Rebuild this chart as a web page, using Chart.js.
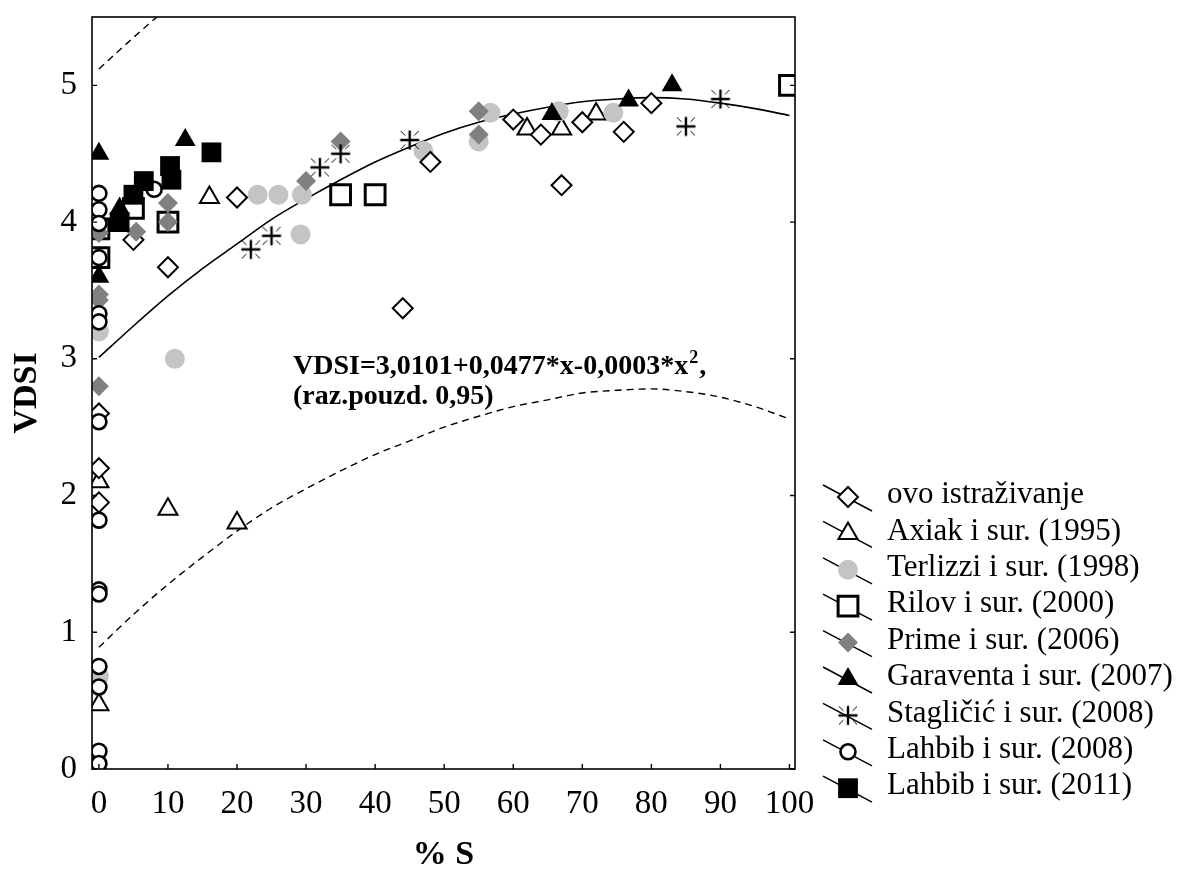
<!DOCTYPE html>
<html><head><meta charset="utf-8">
<script src="https://cdn.jsdelivr.net/npm/chart.js@4.4.1/dist/chart.umd.min.js"></script>
<style>html,body{margin:0;padding:0;background:#fff;}#wrap{width:1181px;height:872px;position:relative;}</style>
</head><body><div id="wrap"><canvas id="c" width="1181" height="872"></canvas></div>
<script>
// ---------- data ----------
const xTickValues = [0,10,20,30,40,50,60,70,80,90,100];
const yTickValues = [0,1,2,3,4,5];
const xTitle = '% S';
const yTitle = 'VDSI';
const eqLine1 = 'VDSI=3,0101+0,0477*x-0,0003*x';
const eqSup = '2';
const eqTail = ',';
const eqLine2 = '(raz.pouzd. 0,95)';

const seriesNames = ['ovo istraživanje','Axiak i sur. (1995)','Terlizzi i sur. (1998)','Rilov i sur. (2000)','Prime i sur. (2006)','Garaventa i sur. (2007)','Stagličić i sur. (2008)','Lahbib i sur. (2008)','Lahbib i sur. (2011)'];

const ovoX = [0,0,0,5,10,20,44,48,60,64,67,70,76,80];
const ovoY = [2.6,2.2,1.95,3.87,3.67,4.18,3.37,4.44,4.75,4.64,4.27,4.73,4.66,4.87];
const axiakX = [0,0,10,16,20,62,67,72];
const axiakY = [2.1,0.47,1.9,4.18,1.8,4.68,4.68,4.79];
const terlizziX = [0,0,11,23,26,29.4,29.2,47,55,56.7,66.6,74.5];
const terlizziY = [3.2,0.68,3.0,4.2,4.2,4.2,3.91,4.52,4.59,4.8,4.81,4.8];
const rilovX = [0,0,5,10,35,40,100];
const rilovY = [3.95,3.74,4.1,4.0,4.2,4.2,5.0];
const primeX = [0,0,0,0,5.4,10,10,30,35,55,55];
const primeY = [3.92,3.47,3.43,2.8,3.93,4.14,4.0,4.3,4.59,4.81,4.64];
const garaventaX = [0,0,3,12.5,65.6,76.7,83];
const garaventaY = [4.5,3.6,4.1,4.6,4.79,4.89,5.0];
const staglicicX = [22,25,32,35,45,85,90];
const staglicicY = [3.8,3.9,4.4,4.5,4.6,4.7,4.9];
const lahbib08X = [0,0,0,0,0,0,0,0,0,0,0,0,0,0,8];
const lahbib08Y = [4.21,4.09,3.99,3.74,3.33,3.27,2.54,1.82,1.31,1.28,0.75,0.6,0.13,0.04,4.24];
const lahbib11X = [3,5,6.5,10.3,10.5,16.3];
const lahbib11Y = [4.0,4.2,4.3,4.41,4.31,4.51];

// fitted curve and 0.95 band
const curveX = [0,5,10,15,20,25,30,35,40,45,50,55,60,65,70,75,80,85,90,95,100];
const fitY   = [3.01,3.24,3.46,3.66,3.84,4.02,4.17,4.31,4.44,4.55,4.65,4.73,4.79,4.84,4.88,4.90,4.91,4.90,4.87,4.83,4.78];
const lowerY = [0.89,1.13,1.35,1.55,1.74,1.91,2.05,2.18,2.30,2.40,2.50,2.58,2.65,2.70,2.75,2.77,2.78,2.76,2.72,2.65,2.56];
const upperX = [0,5,10];
const upperY = [5.12,5.35,5.57];

// ---------- helpers ----------
const SERIF = "'Liberation Serif','Times New Roman',serif";
const pts = (xs, ys) => xs.map((x, i) => ({x, y: ys[i]}));

function makeStar(){
  const c = document.createElement('canvas'); c.width = 24; c.height = 24;
  const g = c.getContext('2d');
  g.strokeStyle = '#000'; g.lineWidth = 2.4; g.beginPath();
  g.moveTo(12,2.5); g.lineTo(12,21.5); g.moveTo(2.5,12); g.lineTo(21.5,12); g.stroke();
  g.lineWidth = 1; g.beginPath();
  [[1,1],[1,-1],[-1,1],[-1,-1]].forEach(([a,b]) => { g.moveTo(12+a*4.5,12+b*4.5); g.lineTo(12+a*9,12+b*9); });
  g.stroke();
  return c;
}
const starImg = makeStar();

const styles = [
  {pointStyle:'rectRot', radius:10, bg:'#ffffff', border:'#000', bw:2},
  {pointStyle:'triangle', radius:11, bg:'#ffffff', border:'#000', bw:2},
  {pointStyle:'circle', radius:10, bg:'#c4c4c4', border:'#c4c4c4', bw:0},
  {pointStyle:'rect', radius:14, bg:'#ffffff', border:'#000', bw:3},
  {pointStyle:'rectRot', radius:10, bg:'#808080', border:'#808080', bw:0},
  {pointStyle:'triangle', radius:12, bg:'#000', border:'#000', bw:0},
  {pointStyle:starImg, radius:10, bg:'#000', border:'#000', bw:0},
  {pointStyle:'circle', radius:7.5, bg:'#ffffff', border:'#000', bw:2.6},
  {pointStyle:'rect', radius:14, bg:'#000', border:'#000', bw:0}
];
const seriesData = [pts(ovoX,ovoY), pts(axiakX,axiakY), pts(terlizziX,terlizziY), pts(rilovX,rilovY), pts(primeX,primeY), pts(garaventaX,garaventaY), pts(staglicicX,staglicicY), pts(lahbib08X,lahbib08Y), pts(lahbib11X,lahbib11Y)];
// lower order value = drawn on top
const drawOrder = [7,9,8,6,5,4,3,2,1];

const datasets = seriesNames.map((name, i) => ({
  label: name, data: seriesData[i], showLine: false, order: drawOrder[i],
  pointStyle: styles[i].pointStyle, pointRadius: styles[i].radius, pointHoverRadius: styles[i].radius,
  pointBackgroundColor: styles[i].bg, pointBorderColor: styles[i].border, pointBorderWidth: styles[i].bw
}));
const lineBase = {showLine:true, pointRadius:0, pointHoverRadius:0, borderColor:'#000', cubicInterpolationMode:'monotone', fill:false};
datasets.push(Object.assign({label:'fit', data: pts(curveX, fitY), borderWidth:1.6, order:10}, lineBase));
datasets.push(Object.assign({label:'lower', data: pts(curveX, lowerY), borderWidth:1.4, borderDash:[7,5], order:11}, lineBase));
datasets.push(Object.assign({label:'upper', data: pts(upperX, upperY), borderWidth:1.4, borderDash:[7,5], order:12}, lineBase));

// ---------- plugins ----------
const framePlugin = {
  id:'frame',
  afterDraw(chart){
    const {ctx, chartArea:a, scales:{x, y}} = chart;
    ctx.save();
    ctx.strokeStyle = '#000'; ctx.lineWidth = 1.6;
    ctx.strokeRect(a.left, a.top, a.right - a.left, a.bottom - a.top);
    ctx.lineWidth = 1.4; ctx.beginPath();
    xTickValues.forEach(v => { const p = x.getPixelForValue(v); ctx.moveTo(p, a.bottom); ctx.lineTo(p, a.bottom - 5); });
    yTickValues.forEach(v => { const p = y.getPixelForValue(v); ctx.moveTo(a.left, p); ctx.lineTo(a.left + 5, p); ctx.moveTo(a.right, p); ctx.lineTo(a.right - 5, p); });
    ctx.stroke();
    ctx.restore();
  }
};
const eqPlugin = {
  id:'eq',
  beforeDatasetsDraw(chart){
    const {ctx, chartArea:a} = chart;
    ctx.save();
    ctx.fillStyle = '#000'; ctx.textBaseline = 'alphabetic'; ctx.textAlign = 'left';
    const x0 = a.left + 201, y1 = a.top + 357, y2 = a.top + 387;
    ctx.font = 'bold 28px ' + SERIF;
    ctx.fillText(eqLine1, x0, y1);
    let w = ctx.measureText(eqLine1).width;
    ctx.font = 'bold 18px ' + SERIF;
    ctx.fillText(eqSup, x0 + w + 1, y1 - 11);
    const ws = ctx.measureText(eqSup).width;
    ctx.font = 'bold 28px ' + SERIF;
    ctx.fillText(eqTail, x0 + w + ws + 2, y1);
    ctx.fillText(eqLine2, x0, y2);
    ctx.restore();
  }
};
const legendPlugin = {
  id:'customLegend',
  afterDraw(chart){
    const {ctx} = chart;
    const mx = 848, y0 = 497, dy = 36.4;
    ctx.save();
    seriesNames.forEach((name, i) => {
      const yy = y0 + dy * i;
      ctx.strokeStyle = '#000'; ctx.lineWidth = 1.5; ctx.setLineDash([]);
      ctx.beginPath(); ctx.moveTo(mx - 25, yy - 12); ctx.lineTo(mx + 24, yy + 14); ctx.stroke();
      const s = styles[i];
      ctx.fillStyle = s.bg; ctx.strokeStyle = s.border; ctx.lineWidth = s.bw;
      Chart.helpers.drawPoint(ctx, {pointStyle: s.pointStyle, rotation: 0, radius: s.radius, borderWidth: s.bw}, mx, yy);
      ctx.fillStyle = '#000'; ctx.font = '31px ' + SERIF; ctx.textBaseline = 'middle'; ctx.textAlign = 'left';
      ctx.fillText(name, 887, yy - 2);
    });
    ctx.restore();
  }
};

new Chart(document.getElementById('c'), {
  type:'scatter',
  data:{datasets},
  options:{
    responsive:false, animation:false, devicePixelRatio:1,
    layout:{padding:{left:0, top:16, right:386, bottom:0}},
    plugins:{legend:{display:false}, tooltip:{enabled:false}},
    scales:{
      x:{
        type:'linear', min:-1, max:100.8,
        afterBuildTicks: s => { s.ticks = xTickValues.map(v => ({value:v})); },
        afterFit: s => { s.height = 103; s.paddingLeft = 0; s.paddingRight = 0; },
        grid:{display:false, drawTicks:false},
        border:{display:false},
        ticks:{color:'#000', padding:16, font:{family:SERIF, size:33}, callback: v => String(v)},
        title:{display:true, text:xTitle, color:'#000', font:{family:SERIF, size:34, weight:'bold', lineHeight:1}, padding:{top:0,bottom:0}}
      },
      y:{
        type:'linear', min:0, max:5.5,
        afterBuildTicks: s => { s.ticks = yTickValues.map(v => ({value:v})); },
        afterFit: s => { s.width = 92; s.paddingTop = 0; s.paddingBottom = 0; },
        grid:{display:false, drawTicks:false},
        border:{display:false},
        ticks:{color:'#000', padding:15, font:{family:SERIF, size:33}, callback: v => String(v)},
        title:{display:true, text:yTitle, color:'#000', font:{family:SERIF, size:34, weight:'bold', lineHeight:1}, padding:{top:10,bottom:0}}
      }
    }
  },
  plugins:[framePlugin, eqPlugin, legendPlugin]
});
</script></body></html>
